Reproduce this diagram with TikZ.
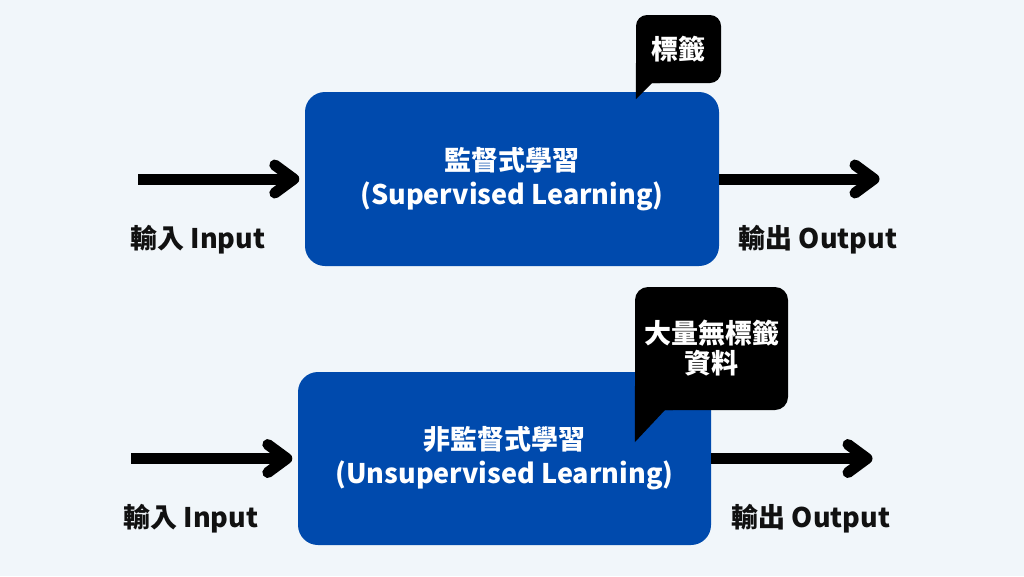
\documentclass[tikz,border=0pt]{standalone}
\usepackage{fontspec}
\setmainfont{Noto Sans CJK TC}
\usetikzlibrary{calc}
\definecolor{bg}{HTML}{F1F6FA}
\definecolor{boxblue}{HTML}{004AAD}
\definecolor{ink}{HTML}{111111}
\newcommand\chevronat[1]{\draw[arrowhead] ($(#1)+(-19,-14)$) -- (#1) -- ($(#1)+(-19,14)$);}
\begin{document}
\begin{tikzpicture}[x=1pt,y=-1pt,
  mainbox/.style={fill=boxblue, rounded corners=20pt, text=white, font=\bfseries\fontsize{27}{34}\selectfont, align=center, inner sep=0pt},
  bubble/.style={fill=black, rounded corners=11pt, text=white, font=\bfseries\fontsize{27}{30}\selectfont, align=center, inner sep=0pt},
  lbl/.style={text=ink, font=\bfseries\fontsize{27}{30}\selectfont, inner sep=0pt},
  shaft/.style={line width=11pt, draw=black},
  arrowhead/.style={line width=11pt, draw=black, line cap=round, line join=round}
]
\fill[bg] (0,0) rectangle (1024,576);
\useasboundingbox (0,0) rectangle (1024,576);

% top row
\node[mainbox, minimum width=414pt, minimum height=174pt] (box1) at (512,179) {監督式學習\\(Supervised Learning)};
\node[bubble, minimum width=85pt, minimum height=68pt] (bub1) at (678.5,49) {標籤};
\fill (bub1.south west) ++(0,-20) -- ++(0,36) -- ++(16,-16) -- ++(8,0) -- ++(0,-20) -- cycle;

\coordinate (in1) at (138,179);
\coordinate (t1) at ($(box1.west)+(-11,0)$);
\draw[shaft] (in1) -- (t1);
\chevronat{t1}
\coordinate (out1) at (874,179);
\draw[shaft] (box1.east) -- (out1);
\chevronat{out1}
\node[lbl] (lin1) at (198,240) {輸入 Input};
\node[lbl] (lout1) at (818,240) {輸出 Output};

% bottom row
\node[mainbox, minimum width=413pt, minimum height=173pt] (box2) at (504.5,458.5) {非監督式學習\\(Unsupervised Learning)};
\node[bubble, minimum width=153pt, minimum height=123pt, rounded corners=13pt] (bub2) at (711.5,348.5) {大量無標籤\\資料};
\fill (bub2.south west) ++(0,-24) -- ++(0,56) -- ++(30,-32) -- ++(8,0) -- ++(0,-24) -- cycle;

\coordinate (in2) at (131,458.5);
\coordinate (t2) at ($(box2.west)+(-11,0)$);
\draw[shaft] (in2) -- (t2);
\chevronat{t2}
\coordinate (out2) at (867,458.5);
\draw[shaft] (box2.east) -- (out2);
\chevronat{out2}
\node[lbl] (lin2) at (191,519) {輸入 Input};
\node[lbl] (lout2) at (811,519) {輸出 Output};
\end{tikzpicture}
\end{document}
